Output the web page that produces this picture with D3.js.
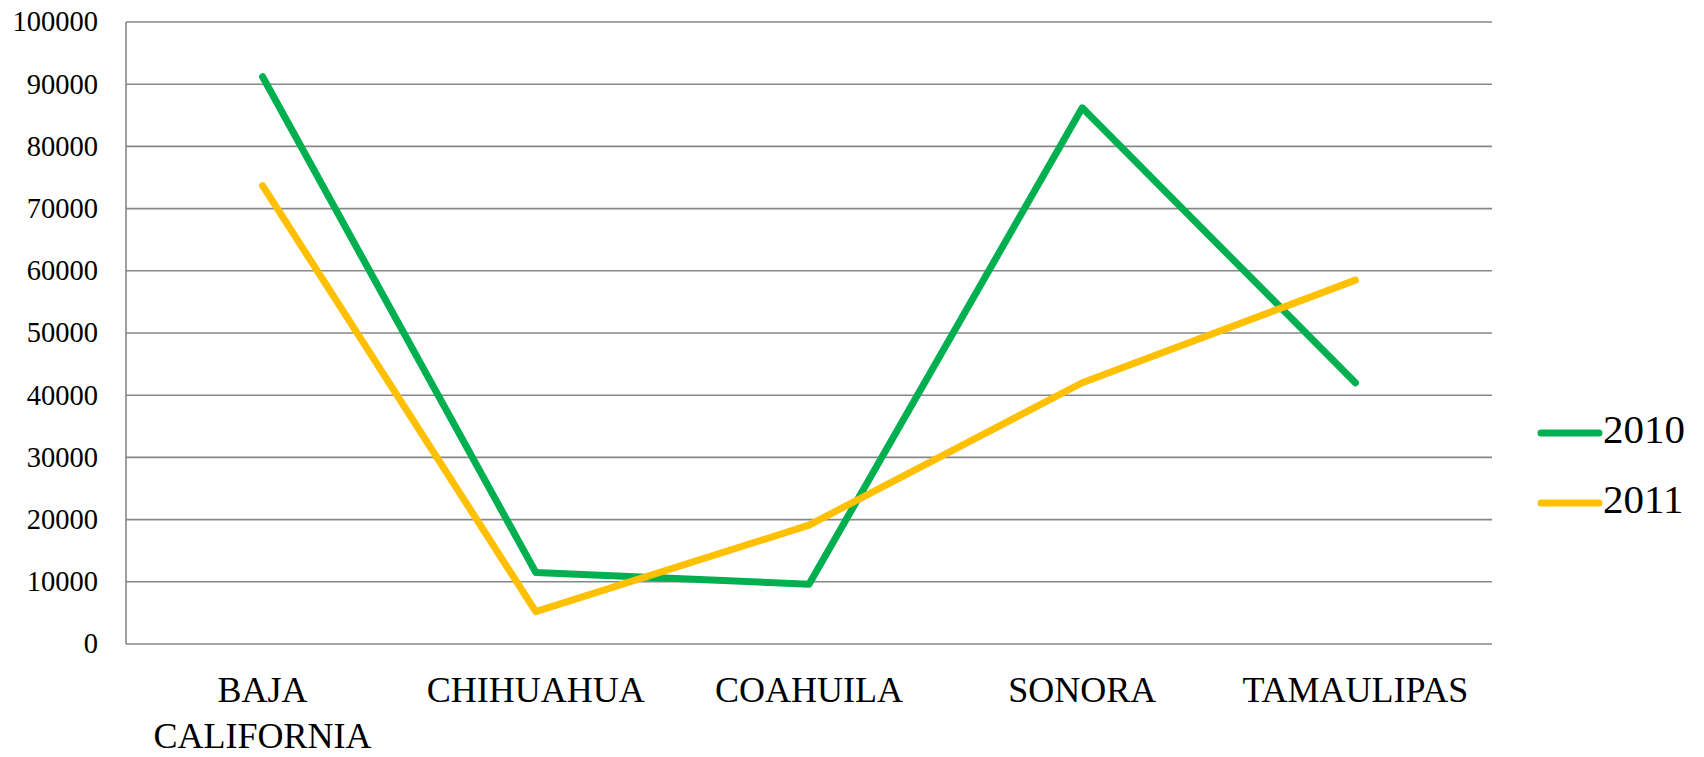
<!DOCTYPE html>
<html><head><meta charset="utf-8">
<script src="https://cdn.jsdelivr.net/npm/d3@7"></script>
</head><body style="margin:0;background:#fff">
<svg id="c" width="1704" height="757" style="display:block"></svg>
<script>
const categories = [["BAJA","CALIFORNIA"],["CHIHUAHUA"],["COAHUILA"],["SONORA"],["TAMAULIPAS"]];
const seriesNames = ["2010","2011"];
const values2010 = [91200, 11500, 9600, 86200, 42000];
const values2011 = [73700, 5200, 19100, 42000, 58500];
const yTicks = [0,10000,20000,30000,40000,50000,60000,70000,80000,90000,100000];
const colors = ["#00B050","#FFC000"];

(function(){
const svg = d3.select("#c");
const FF = "Liberation Serif";
const pL = 126, pR = 1492, pT = 22, pB = 644;
const keys = categories.map(c => c.join(" "));
const x = d3.scaleBand().domain(keys).range([pL, pR]);
const y = d3.scaleLinear().domain([0, 100000]).range([pB, pT]);

svg.append("g").selectAll("line").data(yTicks).join("line")
  .attr("x1", pL).attr("x2", pR)
  .attr("y1", d => y(d)).attr("y2", d => y(d))
  .attr("stroke", "#878787").attr("stroke-width", 1.6);
svg.append("line").attr("x1", pL).attr("x2", pL).attr("y1", pT).attr("y2", pB)
  .attr("stroke", "#878787").attr("stroke-width", 1.6);

svg.append("g").selectAll("text").data(yTicks).join("text")
  .attr("x", 98).attr("y", d => y(d)).attr("dy", "0.33em")
  .attr("text-anchor", "end").attr("font-family", FF).attr("font-size", 28.5)
  .attr("fill", "#000").text(d => d);

const xl = svg.append("g").selectAll("text").data(categories).join("text")
  .attr("x", (d,i) => x(keys[i]) + x.bandwidth()/2).attr("y", 702)
  .attr("text-anchor", "middle").attr("font-family", FF).attr("font-size", 36).attr("fill", "#000");
xl.each(function(d) {
  const t = d3.select(this);
  d.forEach((s, j) => t.append("tspan").attr("x", t.attr("x")).attr("dy", j === 0 ? 0 : 46).text(s));
});

const line = d3.line().x((d,i) => x(keys[i]) + x.bandwidth()/2).y(d => y(d));
[values2010, values2011].forEach((vals, k) => {
  svg.append("path").datum(vals).attr("d", line).attr("fill", "none")
    .attr("stroke", colors[k]).attr("stroke-width", 7)
    .attr("stroke-linejoin", "round").attr("stroke-linecap", "round");
});

const legY = [433, 503];
seriesNames.forEach((n, k) => {
  svg.append("line").attr("x1", 1541).attr("x2", 1599).attr("y1", legY[k]).attr("y2", legY[k])
    .attr("stroke", colors[k]).attr("stroke-width", 7).attr("stroke-linecap", "round");
  svg.append("text").attr("x", 1603).attr("y", legY[k] + 10).attr("font-family", FF)
    .attr("font-size", 41).attr("fill", "#000").text(n);
});
})();
</script>
</body></html>
